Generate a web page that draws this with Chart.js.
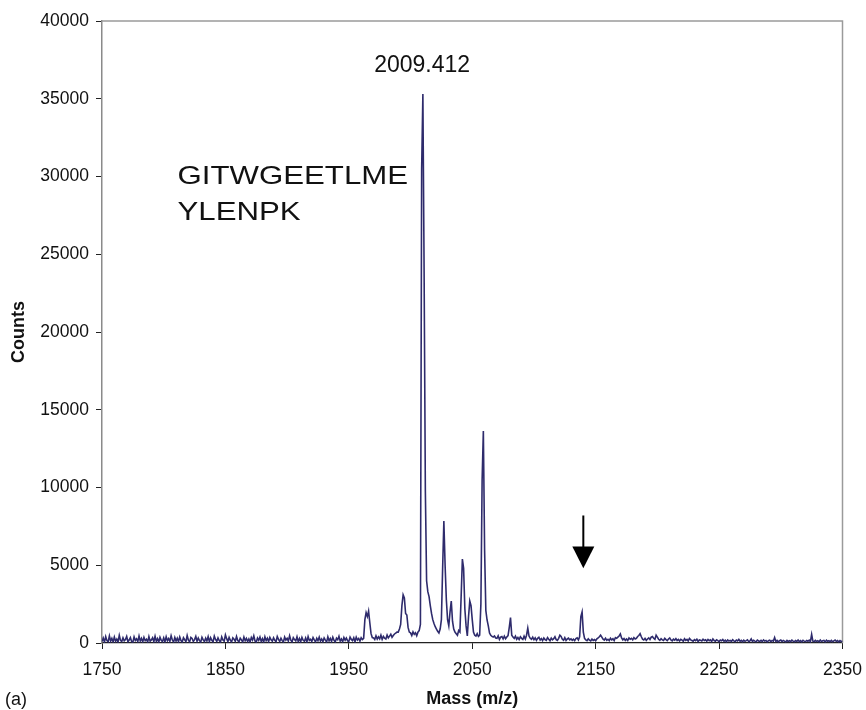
<!DOCTYPE html>
<html>
<head>
<meta charset="utf-8">
<title>Mass spectrum</title>
<script src="https://cdn.jsdelivr.net/npm/chart.js@4.4.1/dist/chart.umd.min.js"></script>
<style>
  html, body { margin: 0; padding: 0; background: #fff; }
  #wrap { width: 866px; height: 710px; }
</style>
</head>
<body>
<div id="wrap"><canvas id="spectrum" width="866" height="710"></canvas></div>
<script>
// Spectrum sampled every 1 m/z from 1750 to 2350
const massStart = 1750;
const massStep = 1;
const counts = [
  90, 320, 60, 410, 150, 80, 460, 120, 300, 70,       // 1750
  380, 110, 250, 60, 490, 170, 90, 330, 140, 220,     // 1760
  420, 80, 190, 350, 100, 50, 390, 160, 270, 90,      // 1770
  450, 130, 300, 70, 360, 150, 240, 60, 410, 120,     // 1780
  200, 340, 80, 430, 110, 280, 60, 370, 180, 90,      // 1790
  330, 70, 400, 150, 290, 100, 470, 190, 60, 350,     // 1800
  120, 310, 80, 390, 160, 60, 340, 210, 90, 480,      // 1810
  180, 70, 360, 290, 100, 220, 430, 110, 320, 150,    // 1820
  60, 370, 200, 90, 310, 130, 410, 80, 340, 170,      // 1830
  70, 440, 230, 100, 330, 160, 60, 390, 190, 120,     // 1840
  520, 280, 90, 360, 170, 70, 330, 240, 110, 420,     // 1850
  160, 80, 310, 200, 60, 380, 150, 300, 90, 260,      // 1860
  70, 350, 190, 460, 130, 60, 320, 170, 380, 100,     // 1870
  280, 50, 400, 150, 310, 90, 360, 200, 110, 330,     // 1880
  170, 80, 420, 230, 100, 310, 150, 60, 380, 190,     // 1890
  300, 120, 470, 180, 70, 340, 220, 130, 400, 90,     // 1900
  290, 80, 360, 170, 110, 320, 60, 410, 160, 240,     // 1910
  100, 350, 200, 70, 300, 150, 380, 120, 260, 80,     // 1920
  330, 190, 60, 400, 140, 290, 100, 370, 170, 70,     // 1930
  310, 210, 430, 120, 260, 80, 350, 180, 320, 140,    // 1940
  100, 380, 230, 150, 330, 80, 370, 190, 290, 120,    // 1950
  340, 220, 300, 1500, 1950, 1700, 2050, 1300, 600, 350,   // 1960
  330, 220, 460, 250, 400, 270, 500, 230, 420, 310,   // 1970
  260, 510, 330, 440, 560, 360, 480, 580, 640, 700,   // 1980
  700, 900, 1200, 2400, 3100, 2900, 1900, 1800, 1000, 700,   // 1990
  650, 480, 720, 560, 660, 470, 700, 800, 1200, 30500,   // 2000
  35300, 23800, 9800, 4000, 3300, 2980, 2400, 1900, 1500, 1250,   // 2010
  1050, 900, 750, 640, 900, 1500, 4800, 7840, 5000, 2800,   // 2020
  1500, 1100, 2000, 2700, 1400, 900, 700, 600, 500, 800,   // 2030
  700, 3000, 5400, 4800, 2200, 1100, 450, 1700, 2700, 2400,   // 2040
  1500, 700, 500, 450, 600, 420, 500, 2500, 10500, 13630,   // 2050
  6000, 2100, 1480, 1100, 640, 500, 420, 380, 450, 320,   // 2060
  300, 460, 230, 380, 420, 260, 440, 280, 390, 480,   // 2070
  1000, 1630, 500, 380, 300, 440, 240, 350, 220, 400,   // 2080
  300, 230, 440, 260, 500, 960, 450, 300, 240, 370,   // 2090
  210, 330, 170, 300, 370, 190, 280, 150, 320, 220,   // 2100
  170, 350, 240, 140, 310, 200, 280, 400, 220, 170,   // 2110
  300, 500, 420, 240, 180, 340, 160, 260, 310, 200,   // 2120
  270, 170, 250, 150, 280, 330, 200, 400, 1700, 2000,   // 2130
  700, 300, 200, 150, 270, 180, 130, 250, 160, 220,   // 2140
  150, 270, 330, 400, 500, 380, 240, 190, 310, 170,   // 2150
  240, 150, 310, 200, 270, 160, 350, 300, 380, 450,   // 2160
  580, 320, 200, 290, 170, 260, 160, 330, 240, 300,   // 2170
  200, 350, 260, 300, 420, 480, 600, 400, 250, 200,   // 2180
  300, 170, 260, 330, 220, 380, 420, 300, 230, 500,   // 2190
  380, 240, 170, 280, 200, 160, 300, 220, 150, 260,   // 2200
  320, 190, 140, 250, 180, 280, 160, 230, 130, 240,   // 2210
  190, 120, 270, 170, 230, 130, 290, 200, 160, 110,   // 2220
  220, 150, 250, 100, 200, 170, 130, 240, 160, 210,   // 2230
  120, 230, 150, 200, 100, 260, 160, 120, 210, 150,   // 2240
  90, 190, 140, 220, 110, 180, 80, 200, 130, 170,     // 2250
  100, 210, 140, 90, 190, 130, 230, 110, 170, 80,     // 2260
  180, 110, 150, 200, 90, 140, 260, 100, 170, 120,    // 2270
  80, 190, 130, 100, 170, 90, 200, 120, 160, 70,      // 2280
  150, 180, 90, 160, 120, 350, 100, 170, 80, 150,     // 2290
  190, 90, 160, 120, 70, 170, 100, 150, 90, 180,      // 2300
  120, 80, 160, 100, 190, 90, 150, 70, 170, 120,      // 2310
  90, 160, 110, 180, 80, 550, 120, 90, 170, 100,      // 2320
  150, 80, 190, 100, 140, 160, 70, 180, 110, 150,     // 2330
  90, 170, 80, 140, 190, 100, 160, 70, 150, 90,       // 2340
  140                                                 // 2350
];

const xTicks = [1750, 1850, 1950, 2050, 2150, 2250, 2350];
const yTicks = [0, 5000, 10000, 15000, 20000, 25000, 30000, 35000, 40000];

const peakMass = 2009.412;
const peakLabel = '2009.412';
const sequenceLines = ['GITWGEETLME', 'YLENPK'];
const arrowMass = 2140;

const FONT = '"Liberation Sans", Arial, Helvetica, sans-serif';

// frame on top/right, text labels and the arrow
const annotations = {
  id: 'annotations',
  beforeDatasetsDraw(chart) {
    const { ctx, chartArea: a } = chart;
    ctx.save();
    ctx.strokeStyle = '#9a9a9a';
    ctx.lineWidth = 1.5;
    ctx.beginPath();
    ctx.moveTo(a.left, a.top);
    ctx.lineTo(a.right, a.top);
    ctx.lineTo(a.right, a.bottom);
    ctx.stroke();
    ctx.restore();
  },
  afterDraw(chart) {
    const { ctx, scales: { x, y } } = chart;
    ctx.save();
    ctx.fillStyle = '#111';
    ctx.textBaseline = 'alphabetic';

    // mass of the base peak
    ctx.font = '23px ' + FONT;
    ctx.textAlign = 'center';
    ctx.fillText(peakLabel, x.getPixelForValue(peakMass), y.getPixelForValue(36700));

    // peptide sequence (wide lettering)
    ctx.font = '26px ' + FONT;
    ctx.textAlign = 'left';
    const sx = x.getPixelForValue(1811.2);
    [29500, 27200].forEach((v, i) => {
      ctx.save();
      ctx.translate(sx, y.getPixelForValue(v));
      ctx.scale(1.2, 1);
      ctx.fillText(sequenceLines[i], 0, 0);
      ctx.restore();
    });

    // arrow pointing at the 2140 peak
    const ax = x.getPixelForValue(arrowMass);
    const yTop = y.getPixelForValue(8200);
    const yHead = y.getPixelForValue(6200);
    const yTip = y.getPixelForValue(4800);
    ctx.strokeStyle = '#000';
    ctx.fillStyle = '#000';
    ctx.lineWidth = 2;
    ctx.beginPath();
    ctx.moveTo(ax, yTop);
    ctx.lineTo(ax, yHead + 1);
    ctx.stroke();
    ctx.beginPath();
    ctx.moveTo(ax - 11, yHead);
    ctx.lineTo(ax + 11, yHead);
    ctx.lineTo(ax, yTip);
    ctx.closePath();
    ctx.fill();

    // panel letter
    ctx.fillStyle = '#111';
    ctx.font = '18px ' + FONT;
    ctx.textAlign = 'left';
    ctx.fillText('(a)', 5, 705);
    ctx.restore();
  }
};

const points = counts.map((c, i) => ({ x: massStart + i * massStep, y: c }));

new Chart(document.getElementById('spectrum'), {
  type: 'line',
  data: {
    datasets: [{
      data: points,
      borderColor: '#2e2b6c',
      borderWidth: 1.6,
      pointRadius: 0,
      tension: 0,
      fill: false
    }]
  },
  options: {
    responsive: false,
    animation: false,
    events: [],
    layout: { padding: { left: 0, right: 23.5, top: 21, bottom: 0 } },
    plugins: {
      legend: { display: false },
      tooltip: { enabled: false }
    },
    scales: {
      x: {
        type: 'linear',
        min: 1750,
        max: 2350,
        afterBuildTicks: (scale) => { scale.ticks = xTicks.map(v => ({ value: v })); },
        afterFit: (scale) => {
          scale.height = 67;
          scale.paddingLeft = 0;
          scale.paddingRight = 0;
        },
        border: { display: true, color: '#222', width: 1.2 },
        grid: { drawOnChartArea: false, drawTicks: true, tickLength: 6, tickColor: '#222' },
        ticks: {
          color: '#111',
          font: { family: FONT, size: 17.5 },
          padding: 11,
          maxRotation: 0,
          callback: (v) => String(v)
        },
        title: {
          display: true,
          text: 'Mass (m/z)',
          color: '#111',
          font: { family: FONT, size: 18, weight: 'bold' },
          padding: 0
        }
      },
      y: {
        type: 'linear',
        min: 0,
        max: 40000,
        afterBuildTicks: (scale) => { scale.ticks = yTicks.map(v => ({ value: v })); },
        afterFit: (scale) => {
          scale.width = 102;
          scale.paddingTop = 0;
          scale.paddingBottom = 0;
        },
        border: { display: true, color: '#8a8a8a', width: 1.5 },
        grid: { drawOnChartArea: false, drawTicks: true, tickLength: 6, tickColor: '#222' },
        ticks: {
          color: '#111',
          font: { family: FONT, size: 17.5 },
          padding: 7,
          callback: (v) => String(v)
        },
        title: {
          display: true,
          text: 'Counts',
          color: '#111',
          font: { family: FONT, size: 18, weight: 'bold' },
          padding: 8
        }
      }
    }
  },
  plugins: [annotations]
});
</script>
</body>
</html>
